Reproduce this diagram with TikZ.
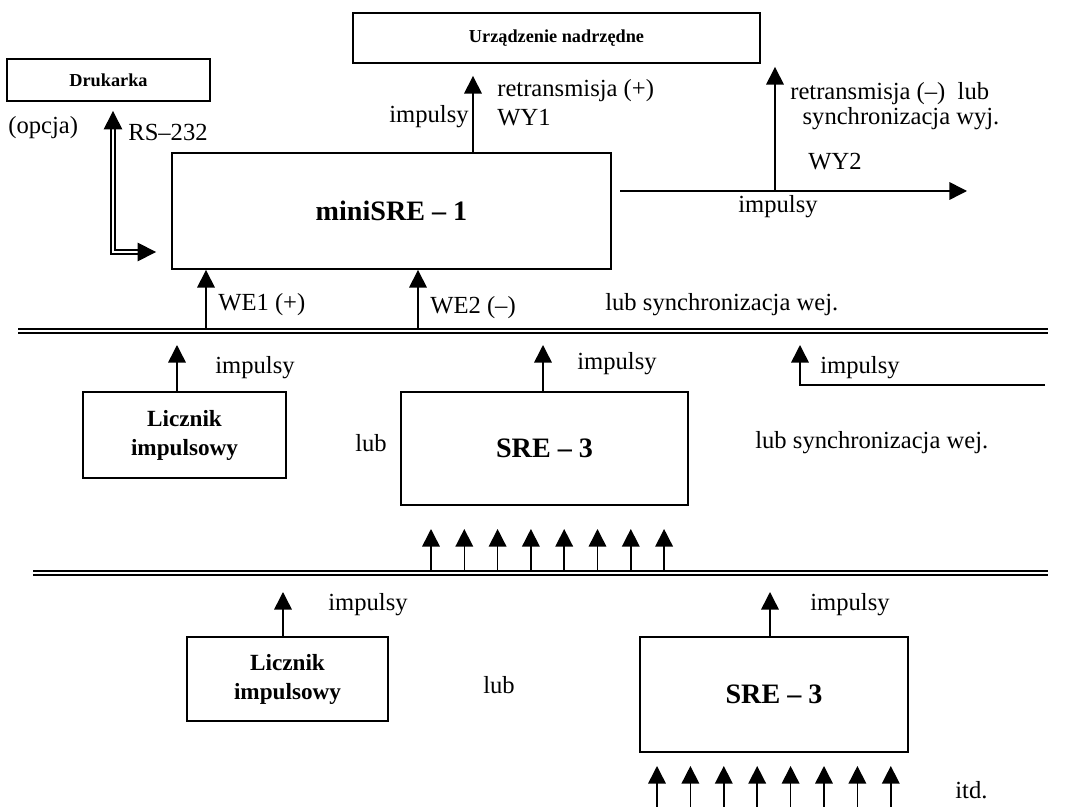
\documentclass[tikz,border=0pt]{standalone}
\usepackage{fontspec}
\setmainfont{Liberation Serif}
\usetikzlibrary{arrows.meta, positioning, calc}

\begin{document}
\begin{tikzpicture}[
        x=0.02cm, y=-0.02cm,
        box/.style={rectangle, draw, line width=1.1pt, align=center, inner sep=0pt},
        arrow/.style={-{Triangle[length=10pt, width=10pt]}, line width=0.85pt},
        rsline/.style={{Triangle[length=10.5pt, width=10.5pt]}-{Triangle[length=10.5pt, width=10.5pt]}, double, line width=0.8pt, double distance=1.3pt},
        bus/.style={double, line width=1.1pt, double distance=1.1pt},
        lbl/.style={font=\fontsize{14}{14.5}\selectfont, inner sep=0pt, anchor=west},
        bigtxt/.style={font=\fontsize{16}{19}\selectfont\bfseries},
        smalltxt/.style={font=\fontsize{10.4}{12}\selectfont\bfseries},
        midtxt/.style={font=\fontsize{13.2}{16.5}\selectfont\bfseries}
    ]
        \useasboundingbox (0,0) rectangle (1066,807);

        % boxes
        \node[box, smalltxt, minimum width=8.14cm, minimum height=1cm] (master) at (556.5,38) {Urządzenie nadrzędne};
        \node[box, smalltxt, minimum width=4.06cm, minimum height=0.84cm] (printer) at (108.5,80) {Drukarka};
        \node[box, bigtxt, minimum width=8.78cm, minimum height=2.32cm] (mini) at (391.5,211) {miniSRE – 1};
        \node[box, midtxt, minimum width=4.06cm, minimum height=1.72cm] (counterA) at (184.5,435) {Licznik\\impulsowy};
        \node[box, bigtxt, minimum width=5.74cm, minimum height=2.26cm] (sreA) at (544.5,448.5) {SRE – 3};
        \node[box, midtxt, minimum width=4.02cm, minimum height=1.68cm] (counterB) at (287.5,679) {Licznik\\impulsowy};
        \node[box, bigtxt, minimum width=5.36cm, minimum height=2.3cm] (sreB) at (774,694.5) {SRE – 3};

        % points
        \coordinate (rs) at (113,252);
        \coordinate (wy1) at (473,0);
        \coordinate (out) at (620,191);
        \coordinate (outend) at (967,191);
        \coordinate (wy2) at (775,191);
        \coordinate (we1) at (206,331);
        \coordinate (we2) at (418,331);
        \coordinate (busAl) at (18,331);
        \coordinate (busAr) at (1048,331);
        \coordinate (busBl) at (33,573);
        \coordinate (busBr) at (1048,573);
        \coordinate (inA) at (177,345);
        \coordinate (inB) at (543,345);
        \coordinate (inC) at (800,345);
        \coordinate (lineC) at (1045,385);
        \coordinate (inD) at (283,592);
        \coordinate (inE) at (770,592);

        % connectors
        \draw[rsline, shorten <=0.18cm, shorten >=0.3cm] (rs |- printer.south) -- (rs) -- (rs -| mini.west);
        \draw[arrow, shorten >=0.24cm] (wy1 |- mini.north) -- (wy1 |- master.south);
        \draw[arrow] (out) -- (outend);
        \draw[arrow, shorten >=0.06cm] (wy2) -- (wy2 |- master.south);
        \draw[arrow] (we1) -- (we1 |- mini.south);
        \draw[arrow] (we2) -- (we2 |- mini.south);
        \draw[bus] (busAl) -- (busAr);
        \draw[bus] (busBl) -- (busBr);
        \draw[arrow] (inA |- counterA.north) -- (inA);
        \draw[arrow] (inB |- sreA.north) -- (inB);
        \draw[arrow] (lineC) -- (lineC -| inC) -- (inC);
        \draw[arrow] (inD |- counterB.north) -- (inD);
        \draw[arrow] (inE |- sreB.north) -- (inE);
        \foreach \i in {0,...,7} {
            \draw[arrow] (431+33.3*\i,571) -- (431+33.3*\i,529);
            \draw[arrow] (657+33.4*\i,807) -- (657+33.4*\i,766);
        }

        % labels
        \node[lbl, anchor=east] (impWY1) at (469,117) {impulsy};
        \node[lbl] (retrA) at (497,91) {retransmisja (+)};
        \node[lbl] (wy1txt) at (497,118) {WY1};
        \node[lbl, anchor=north west, align=left] (retrB) at (790,82) {retransmisja (–)\ \ lub\\\hspace{7pt}synchronizacja wyj.};
        \node[lbl] (wy2txt) at (808,162) {WY2};
        \node[lbl, anchor=center] (impWY2) at (778,207) {impulsy};
        \node[lbl] (opt) at (8,128) {(opcja)};
        \node[lbl] (rstxt) at (128,132) {RS–232};
        \node[lbl] (we1txt) at (218,305) {WE1 (+)};
        \node[lbl] (we2txt) at (430,308) {WE2 (–)};
        \node[lbl] (syncInA) at (605,305) {lub synchronizacja wej.};
        \node[lbl] (impA) at (215,368) {impulsy};
        \node[lbl] (impB) at (577,364) {impulsy};
        \node[lbl] (impC) at (820,368) {impulsy};
        \node[lbl] (orA) at (355,443) {lub};
        \node[lbl] (syncInB) at (755,443) {lub synchronizacja wej.};
        \node[lbl] (impD) at (328,605) {impulsy};
        \node[lbl] (impE) at (810,605) {impulsy};
        \node[lbl] (orB) at (483,685) {lub};
        \node[lbl] (etc) at (955,790) {itd.};

    \end{tikzpicture}
\end{document}
